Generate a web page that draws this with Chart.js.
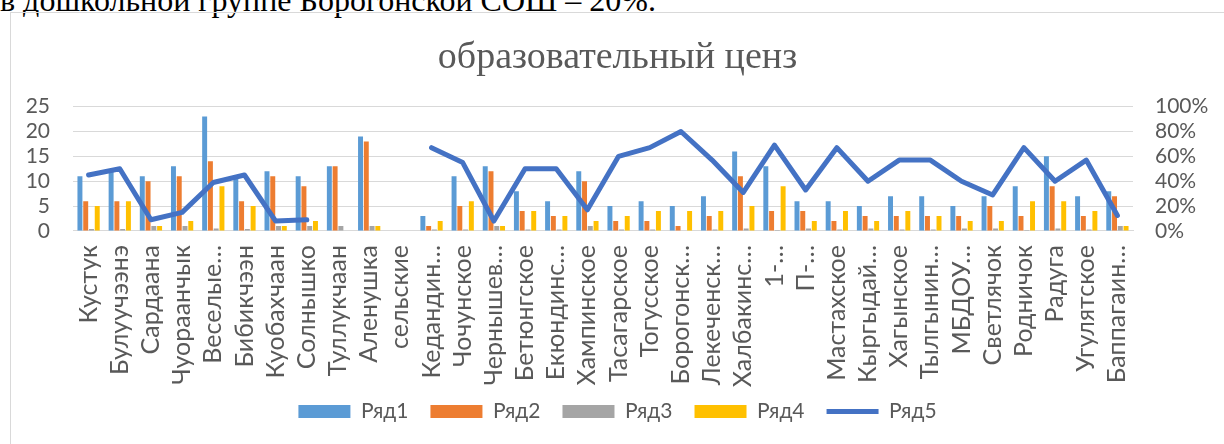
<!DOCTYPE html>
<html><head><meta charset="utf-8">
<script src="https://cdn.jsdelivr.net/npm/chart.js@4.4.1/dist/chart.umd.min.js"></script>
<style>
html,body{margin:0;padding:0;background:#fff;overflow:hidden;width:1224px;height:444px;}
#top{position:absolute;left:0;top:-18px;font-family:"Liberation Serif",serif;font-size:32px;color:#000;white-space:nowrap;}
#frame{position:absolute;left:10px;top:12px;width:1240px;height:460px;border:1px solid #d9d9d9;box-sizing:border-box;}
#wrap{position:absolute;left:11px;top:13px;width:1213px;height:431px;}
</style></head><body>
<div id="top">в дошкольной группе Борогонской СОШ – 20%.</div>
<div id="frame"></div>
<div id="wrap"><canvas id="c"></canvas></div>
<script>
const categories = ["Кустук","Булуучээнэ","Сардаана","Чуораанчык","Веселые…","Бибикчээн","Куобахчаан","Солнышко","Туллукчаан","Аленушка","сельские","Кедандин…","Чочунское","Чернышев…","Бетюнгское","Екюндинс…","Хампинское","Тасагарское","Тогусское","Борогонск…","Лекеченск…","Халбакинс…","1-…","П-…","Мастахское","Кыргыдай…","Хагынское","Тылгынин…","МБДОУ…","Светлячок","Родничок","Радуга","Угулятское","Баппагаин…"];
const ryad1 = [11,12,11,13,23,11,12,11,13,19,null,3,11,13,8,6,12,5,6,5,7,16,13,6,6,5,7,7,5,7,9,15,7,8];
const ryad2 = [6,6,10,11,14,6,11,9,13,18,null,1,5,12,4,3,10,2,2,1,3,11,4,4,2,3,3,3,3,5,3,9,3,7];
const ryad3 = [0.4,0.4,1,1,0.5,0.4,1,1,1,1,null,0.3,0.3,1,0.3,0.3,1,0.3,0.3,0,0.3,0.5,0.2,0.5,0.3,0.5,0.3,0.3,0.5,0.5,0.2,0.5,0.3,1];
const ryad4 = [5,6,1,2,9,5,1,2,0,1,null,2,6,1,4,3,2,3,4,4,4,5,9,2,4,2,4,3,2,2,6,6,4,1];
const ryad5 = [45,50,9,15,39,45,8,9,null,null,null,67,55,8,50,50,17,60,67,80,57,31,69,33,67,40,57,57,40,29,67,40,57,12.5];
const leftTicks = [0,5,10,15,20,25];
const rightTicks = [0,20,40,60,80,100];

const FONT = "Lato, 'Open Sans', sans-serif";
const GREY = '#595959';

const legendLift = {
  id: 'legendLift',
  afterLayout(chart) {
    const l = chart.legend;
    if (l) { l.top -= 10; l.bottom -= 10; }
  }
};

const barCommon = { categoryPercentage: 0.74, barPercentage: 0.86, borderWidth: 0, yAxisID: 'y', order: 1 };

new Chart(document.getElementById('c'), {
  type: 'bar',
  data: {
    labels: categories,
    datasets: [
      Object.assign({ label: 'Ряд1', data: ryad1, backgroundColor: '#5B9BD5' }, barCommon),
      Object.assign({ label: 'Ряд2', data: ryad2, backgroundColor: '#ED7D31' }, barCommon),
      Object.assign({ label: 'Ряд3', data: ryad3, backgroundColor: '#A5A5A5' }, barCommon),
      Object.assign({ label: 'Ряд4', data: ryad4, backgroundColor: '#FFC000' }, barCommon),
      { type: 'line', label: 'Ряд5', data: ryad5, borderColor: '#4472C4', backgroundColor: '#4472C4',
        borderWidth: 5, pointRadius: 0, spanGaps: false, tension: 0, yAxisID: 'y2', order: 0,
        borderCapStyle: 'round', borderJoinStyle: 'round' }
    ]
  },
  options: {
    responsive: true,
    maintainAspectRatio: false,
    animation: false,
    layout: { padding: { left: 0, right: 0, top: 0, bottom: 2 } },
    plugins: {
      tooltip: { enabled: false },
      title: {
        display: true, text: 'образовательный ценз', color: GREY,
        font: { family: "'Liberation Serif', serif", size: 38, weight: 'normal', lineHeight: 1.2 },
        padding: { top: 22, bottom: 26 }
      },
      legend: {
        position: 'bottom',
        labels: {
          usePointStyle: true, pointStyleWidth: 52, boxHeight: 13, padding: 22,
          color: GREY, font: { family: FONT, size: 21 },
          sort: (a, b) => a.datasetIndex - b.datasetIndex,
          generateLabels(chart) {
            const items = Chart.defaults.plugins.legend.labels.generateLabels(chart);
            items.forEach(it => {
              const ds = chart.data.datasets[it.datasetIndex];
              if (ds.type === 'line') { it.pointStyle = 'line'; it.lineWidth = 5; it.strokeStyle = ds.borderColor; }
              else { it.pointStyle = 'rect'; it.lineWidth = 0; }
            });
            return items;
          }
        }
      }
    },
    scales: {
      x: {
        grid: { display: false },
        border: { color: '#d9d9d9', width: 1 },
        afterFit: s => { s.height = 158; },
        ticks: { autoSkip: false, maxRotation: 90, minRotation: 90, color: GREY, font: { family: FONT, size: 25 }, padding: 6 }
      },
      y: {
        position: 'left', min: 0, max: 25,
        afterBuildTicks: s => { s.ticks = leftTicks.map(v => ({ value: v })); },
        afterFit: s => { s.width = 62; },
        grid: { color: '#d9d9d9', lineWidth: 1, drawTicks: false },
        border: { display: false },
        ticks: { autoSkip: false, color: GREY, font: { family: FONT, size: 21 }, padding: 23 }
      },
      y2: {
        position: 'right', min: 0, max: 100,
        afterBuildTicks: s => { s.ticks = rightTicks.map(v => ({ value: v })); },
        afterFit: s => { s.width = 91; },
        grid: { display: false, drawTicks: false },
        border: { display: false },
        ticks: { autoSkip: false, color: GREY, font: { family: FONT, size: 21 }, padding: 22, callback: v => v + '%' }
      }
    }
  },
  plugins: [legendLift]
});
</script>
</body></html>
